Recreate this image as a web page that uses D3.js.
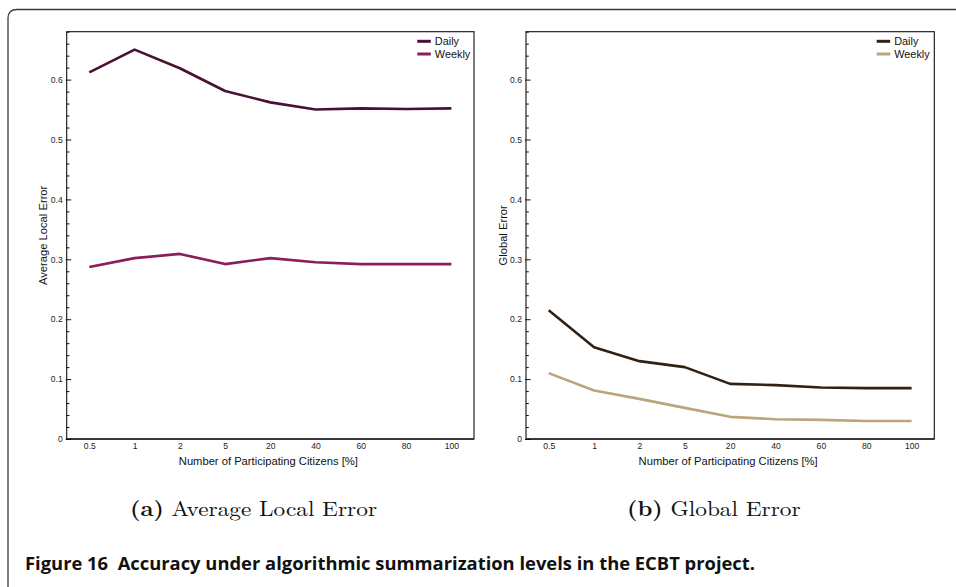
<!DOCTYPE html>
<html>
<head>
<meta charset="utf-8">
<script src="https://cdn.jsdelivr.net/npm/d3@7"></script>
<style>
  html, body { margin: 0; padding: 0; background: #fff; }
  svg { display: block; }
</style>
</head>
<body>
<svg id="fig" width="956" height="587"></svg>
<script>
// Share of participating citizens (x categories)
const participation = ["0.5", "1", "2", "5", "20", "40", "60", "80", "100"];

// (a) Average local error
const localDaily  = [0.612, 0.650, 0.619, 0.581, 0.562, 0.550, 0.552, 0.551, 0.552];
const localWeekly = [0.287, 0.302, 0.309, 0.292, 0.302, 0.295, 0.292, 0.292, 0.292];

// (b) Global error
const globalDaily  = [0.215, 0.153, 0.130, 0.120, 0.092, 0.090, 0.086, 0.085, 0.085];
const globalWeekly = [0.110, 0.081, 0.067, 0.052, 0.037, 0.033, 0.032, 0.030, 0.030];

const yMajorTicks = [0, 0.1, 0.2, 0.3, 0.4, 0.5, 0.6];
const seriesNames = ["Daily", "Weekly"];

const svg = d3.select("#fig");
const sans = "Liberation Sans, Arial, Helvetica, sans-serif";

// Outer article box (open towards the right)
svg.append("path")
  .attr("d", "M8,592 L8,18 Q8,9.5 17,9.5 L960,9.5")
  .attr("fill", "none")
  .attr("stroke", "#3a3a3a")
  .attr("stroke-width", 1.3);

const plotTop = 31.7, plotBottom = 439;
const y = d3.scaleLinear().domain([0, 0.68]).range([plotBottom, plotTop]);
const minorTicks = d3.range(0, 0.681, 0.02).map(v => +v.toFixed(2))
  .filter(v => !yMajorTicks.some(m => Math.abs(m - v) < 1e-9));

function panel(opts) {
  const g = svg.append("g");
  const x = d3.scalePoint().domain(participation).range([opts.left, opts.right]).padding(0.5);

  // plot frame
  g.append("rect")
    .attr("x", opts.left).attr("y", plotTop)
    .attr("width", opts.right - opts.left).attr("height", plotBottom - plotTop)
    .attr("fill", "none").attr("stroke", "#111").attr("stroke-width", 1.1);
  g.append("line")
    .attr("x1", opts.left).attr("x2", opts.right)
    .attr("y1", plotBottom).attr("y2", plotBottom)
    .attr("stroke", "#222").attr("stroke-width", 1.6);

  // y axis: inward major ticks with labels, short minor ticks
  const yAxis = g.append("g")
    .attr("transform", `translate(${opts.left},0)`)
    .call(d3.axisLeft(y).tickValues(yMajorTicks).tickSize(-4.5).tickPadding(4)
      .tickFormat(d => d === 0 ? "0" : d3.format(".1f")(d)));
  yAxis.select(".domain").remove();
  yAxis.selectAll(".tick line").attr("stroke", "#111").attr("x1", -1);
  yAxis.selectAll("text").attr("font-family", sans)
    .attr("font-size", 8.6).attr("fill", "#222");

  const yMinor = g.append("g")
    .attr("transform", `translate(${opts.left},0)`)
    .call(d3.axisLeft(y).tickValues(minorTicks).tickSize(-2.8).tickFormat(""));
  yMinor.select(".domain").remove();
  yMinor.selectAll(".tick line").attr("stroke", "#111");

  // x axis labels
  const xAxis = g.append("g")
    .attr("transform", `translate(0,${plotBottom})`)
    .call(d3.axisBottom(x).tickSize(0).tickPadding(4.2));
  xAxis.select(".domain").remove();
  xAxis.selectAll("text").attr("font-family", sans)
    .attr("font-size", 8.6).attr("fill", "#222");

  // axis titles
  g.append("text")
    .attr("x", (opts.left + opts.right) / 2 - 2).attr("y", 465)
    .attr("text-anchor", "middle")
    .attr("font-family", sans)
    .attr("font-size", 11.2).attr("fill", "#111")
    .text("Number of Participating Citizens [%]");
  g.append("text")
    .attr("transform", `translate(${opts.yTitleX},${(plotTop + plotBottom) / 2}) rotate(-90)`)
    .attr("text-anchor", "middle")
    .attr("font-family", sans)
    .attr("font-size", 11.2).attr("fill", "#111")
    .text(opts.yTitle);

  // series lines
  const line = d3.line().x((d, i) => x(participation[i])).y(d => y(d));
  opts.series.forEach((s, k) => {
    g.append("path")
      .datum(s)
      .attr("d", line)
      .attr("fill", "none")
      .attr("stroke", opts.colors[k])
      .attr("stroke-width", 2.6)
      .attr("stroke-linejoin", "round");
  });

  // legend
  seriesNames.forEach((name, k) => {
    const ly = 41.3 + k * 12.7;
    g.append("line")
      .attr("x1", opts.legendX).attr("x2", opts.legendX + 13.5)
      .attr("y1", ly).attr("y2", ly)
      .attr("stroke", opts.colors[k]).attr("stroke-width", 3);
    g.append("text")
      .attr("x", opts.legendX + 17.5).attr("y", ly + 3.8)
      .attr("font-family", sans)
      .attr("font-size", 10.9).attr("fill", "#111")
      .text(name);
  });

  // sub-caption (slightly widened serif)
  const cap = svg.append("text")
    .attr("transform", `translate(${opts.capX},516) scale(1.11,1)`)
    .attr("font-family", "Latin Modern Roman, CMU Serif, Liberation Serif, serif")
    .attr("font-size", 21).attr("fill", "#111");
  cap.append("tspan").attr("font-weight", "bold").text(opts.capLabel);
  cap.append("tspan").attr("dx", 7).text(opts.capText);
}

panel({
  left: 66.7, right: 474,
  series: [localDaily, localWeekly],
  colors: ["#4a1033", "#8a1d5c"],
  yTitle: "Average Local Error", yTitleX: 47,
  legendX: 417.3,
  capX: 130, capLabel: "(a)", capText: "Average Local Error"
});

panel({
  left: 526, right: 934.3,
  series: [globalDaily, globalWeekly],
  colors: ["#2f2115", "#bca47c"],
  yTitle: "Global Error", yTitleX: 507,
  legendX: 876.7,
  capX: 627, capLabel: "(b)", capText: "Global Error"
});

// Figure caption
svg.append("text")
  .attr("x", 25).attr("y", 569.5)
  .attr("font-family", "Open Sans, Liberation Sans, sans-serif")
  .attr("font-weight", "bold")
  .attr("font-size", 17)
  .attr("fill", "#111")
  .attr("textLength", 730)
  .attr("lengthAdjust", "spacingAndGlyphs")
  .text("Figure 16\u00a0\u00a0Accuracy under algorithmic summarization levels in the ECBT project.");
</script>
</body>
</html>
